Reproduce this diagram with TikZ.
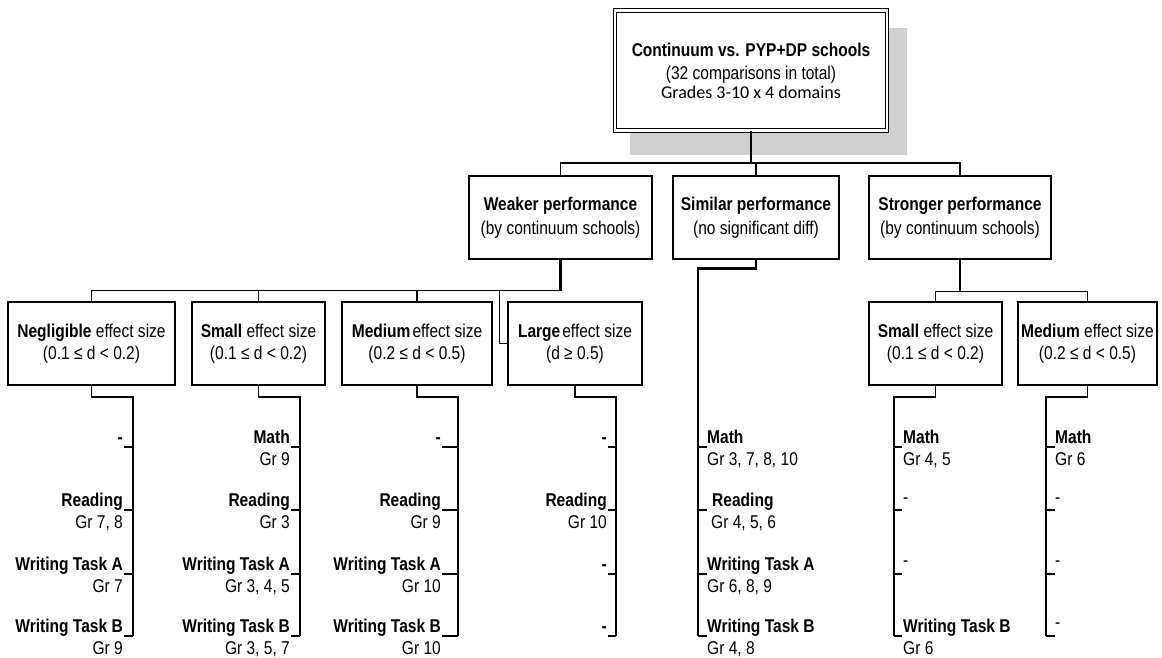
\documentclass[tikz,border=0pt]{standalone}
\usepackage{fontspec}
\setmainfont{Liberation Sans}[FakeStretch=0.84]
\newfontfamily\carlito{Carlito}
\definecolor{shadowgray}{RGB}{208,208,208}
\newcommand\ttl[4]{\node[tit,anchor=base #3] (#1) at #2 {#4};}
\newcommand\grd[4]{\node[grl,anchor=base #3] (#1) at #2 {#4};}
\begin{document}
\begin{tikzpicture}[x=1pt,y=-1pt,
  box/.style={draw, fill=white, line width=1.2pt, inner sep=0pt, align=center},
  lvtwo/.style={box, minimum height=83pt, font=\fontsize{18.5}{24}\selectfont},
  lvthree/.style={box, minimum height=83pt, font=\fontsize{18.5}{22}\selectfont},
  thinc/.style={line width=1.2pt},
  thickc/.style={line width=2.3pt},
  brk/.style={line width=1.8pt},
  tk/.style={line width=1.2pt},
  tit/.style={inner sep=0pt, font=\fontsize{18.5}{22}\selectfont\bfseries},
  grl/.style={inner sep=0pt, font=\fontsize{18.5}{22}\selectfont}]
\useasboundingbox (0,0) rectangle (1162,657);
% shadow
\fill[shadowgray] (630,28) rectangle (907,155);
% top box
\node[box, double, double distance=2.6pt, line width=1pt, minimum width=272pt, minimum height=120pt,
  font=\fontsize{18.5}{23}\selectfont] (top) at (751,70.5)
  {\textbf{Continuum vs. PYP+DP schools}\\(32 comparisons in total)\\[-4pt]{\carlito\fontsize{18}{18}\selectfont Grades 3-10 x 4 domains}};
% level 2
\node[lvtwo, minimum width=183pt] (weak) at (560.5,217.5) {\textbf{Weaker performance}\\(by continuum schools)};
\node[lvtwo, minimum width=166pt] (sim) at (756,217.5) {\textbf{Similar performance}\\(no significant diff)};
\node[lvtwo, minimum width=182pt] (strong) at (960,217.5) {\textbf{Stronger performance}\\(by continuum schools)};
% level 3
\node[lvthree, minimum width=167pt] (neg) at (91.5,343.5) {\textbf{Negligible} effect size\\(0.1 ≤ d < 0.2)};
\node[lvthree, minimum width=133pt] (smw) at (258.5,343.5) {\textbf{Small} effect size\\(0.1 ≤ d < 0.2)};
\node[lvthree, minimum width=150pt] (mdw) at (417,343.5) {\textbf{Medium}\hspace{2pt}effect size\\(0.2 ≤ d < 0.5)};
\node[lvthree, minimum width=134pt] (lgw) at (575,343.5) {\textbf{Large}\hspace{2pt}effect size\\(d ≥ 0.5)};
\node[lvthree, minimum width=133pt] (sms) at (935.5,343.5) {\textbf{Small} effect size\\(0.1 ≤ d < 0.2)};
\node[lvthree, minimum width=139pt] (mds) at (1087.5,343.5) {\textbf{Medium} effect size\\(0.2 ≤ d < 0.5)};
% top connectors
\draw[thickc] (top.south) -- ++(0,32) coordinate (j0);
\draw[thinc] (weak.north) |- (j0) -| (strong.north);
\draw[thinc] (sim.north) -- (sim.north |- j0);
% weaker connectors
\draw[thickc] (weak.south) -- ++(0,31) coordinate (j1);
\draw[line width=1.6pt] (j1) -| (neg.north);
\draw[thinc] (smw.north) -- (smw.north |- j1);
\draw[thinc] (mdw.north) -- (mdw.north |- j1);
\draw[thinc] (lgw.west) -- ++(-8,0) |- (j1);
% stronger connectors
\draw[thinc] (strong.south) -- ++(0,32) coordinate (j2);
\draw[thinc] (sms.north) |- (j2) -| (mds.north);
% bracket ends
\coordinate (e1) at (133,636);
\coordinate (e2) at (300,636);
\coordinate (e3) at (458,636);
\coordinate (e4) at (616,636);
\coordinate (e5) at (698,636);
\coordinate (e6) at (894,636);
\coordinate (e7) at (1046,636);
\draw[thickc] (sim.south) -- ++(0,9) -| (e5);
\draw[brk] (neg.south) -- ++(0,11) -| (e1);
\draw[brk] (smw.south) -- ++(0,11) -| (e2);
\draw[brk] (mdw.south) -- ++(0,11) -| (e3);
\draw[brk] (lgw.south) -- ++(0,11) -| (e4);
\draw[brk] (sms.south) -- ++(0,11) -| (e6);
\draw[brk] (mds.south) -- ++(0,11) -| (e7);
% ticks
\foreach \y in {447,510,574,636}{
  \draw[tk] (e1 |- 0,\y) -- ++(-9,0);
  \draw[tk] (e2 |- 0,\y) -- ++(-9,0);
  \draw[tk] (e3 |- 0,\y) -- ++(-16,0);
  \draw[tk] (e4 |- 0,\y) -- ++(-8,0);
  \draw[tk] (e5 |- 0,\y) -- ++(9,0);
  \draw[tk] (e6 |- 0,\y) -- ++(8,0);
  \draw[tk] (e7 |- 0,\y) -- ++(9,0);
}
% column 1: negligible
\ttl{a1}{(123,443)}{east}{-}
\ttl{a2}{(123,506)}{east}{Reading}
\grd{a2g}{(123,528)}{east}{Gr 7, 8}
\ttl{a3}{(123,570)}{east}{Writing Task A}
\grd{a3g}{(123,592)}{east}{Gr 7}
\ttl{a4}{(123,632)}{east}{Writing Task B}
\grd{a4g}{(123,654)}{east}{Gr 9}
% column 2: small
\ttl{b1}{(290,443)}{east}{Math}
\grd{b1g}{(290,465)}{east}{Gr 9}
\ttl{b2}{(290,506)}{east}{Reading}
\grd{b2g}{(290,528)}{east}{Gr 3}
\ttl{b3}{(290,570)}{east}{Writing Task A}
\grd{b3g}{(290,592)}{east}{Gr 3, 4, 5}
\ttl{b4}{(290,632)}{east}{Writing Task B}
\grd{b4g}{(290,654)}{east}{Gr 3, 5, 7}
% column 3: medium
\ttl{c1}{(441,443)}{east}{-}
\ttl{c2}{(441,506)}{east}{Reading}
\grd{c2g}{(441,528)}{east}{Gr 9}
\ttl{c3}{(441,570)}{east}{Writing Task A}
\grd{c3g}{(441,592)}{east}{Gr 10}
\ttl{c4}{(441,632)}{east}{Writing Task B}
\grd{c4g}{(441,654)}{east}{Gr 10}
% column 4: large
\ttl{d1}{(607,443)}{east}{-}
\ttl{d2}{(607,506)}{east}{Reading}
\grd{d2g}{(607,528)}{east}{Gr 10}
\ttl{d3}{(607,570)}{east}{-}
\ttl{d4}{(607,632)}{east}{-}
% column 5: similar
\ttl{s1}{(707,443)}{west}{Math}
\grd{s1g}{(707,465)}{west}{Gr 3, 7, 8, 10}
\ttl{s2}{(712,506)}{west}{Reading}
\grd{s2g}{(711,528)}{west}{Gr 4, 5, 6}
\ttl{s3}{(707,570)}{west}{Writing Task A}
\grd{s3g}{(707,592)}{west}{Gr 6, 8, 9}
\ttl{s4}{(707,632)}{west}{Writing Task B}
\grd{s4g}{(707,654)}{west}{Gr 4, 8}
% column 6: stronger small
\ttl{t1}{(903,443)}{west}{Math}
\grd{t1g}{(903,465)}{west}{Gr 4, 5}
\grd{t2}{(903,503)}{west}{-}
\grd{t3}{(903,566)}{west}{-}
\ttl{t4}{(903,632)}{west}{Writing Task B}
\grd{t4g}{(903,654)}{west}{Gr 6}
% column 7: stronger medium
\ttl{u1}{(1055,443)}{west}{Math}
\grd{u1g}{(1055,465)}{west}{Gr 6}
\grd{u2}{(1055,503)}{west}{-}
\grd{u3}{(1055,566)}{west}{-}
\grd{u4}{(1055,628)}{west}{-}
\end{tikzpicture}
\end{document}
